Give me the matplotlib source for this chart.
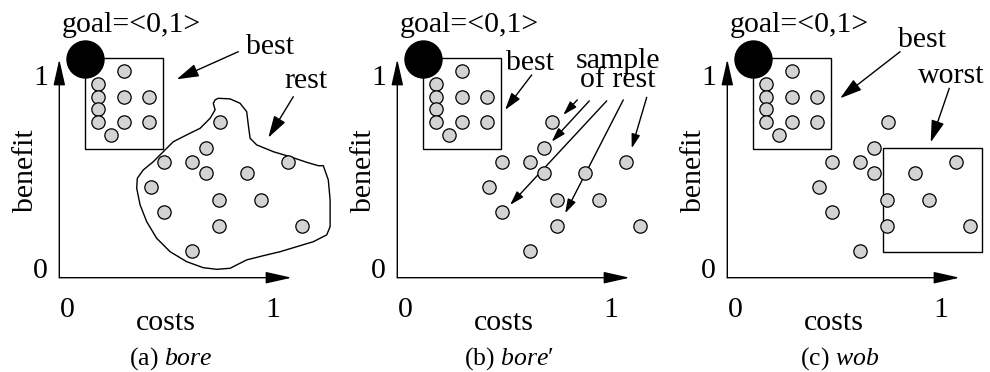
import matplotlib
matplotlib.use('Agg')
import matplotlib.pyplot as plt
from matplotlib.patches import Rectangle, Polygon

plt.rcParams['font.family'] = ['Liberation Serif', 'DejaVu Serif']
plt.rcParams['mathtext.fontset'] = 'custom'
plt.rcParams['mathtext.rm'] = 'Liberation Serif'
plt.rcParams['mathtext.it'] = 'Liberation Serif:italic'

# points (costs, benefit) - same population in every panel
best_x = [0.324, 0.192, 0.192, 0.324, 0.449, 0.192, 0.192, 0.324, 0.449, 0.259]
best_y = [1.035, 0.969, 0.905, 0.905, 0.905, 0.844, 0.780, 0.780, 0.780, 0.714]
rest_x = [0.804, 0.732, 0.524, 0.662, 1.145, 0.734, 0.937, 0.457, 0.800, 1.007, 0.525, 0.800, 1.212, 0.665]
rest_y = [0.777, 0.647, 0.580, 0.580, 0.580, 0.522, 0.522, 0.455, 0.389, 0.389, 0.327, 0.260, 0.260, 0.134]
# panel (b) has the top "rest" point nudged left
rest_x_b = [0.772, 0.732, 0.524, 0.662, 1.145, 0.734, 0.937, 0.457, 0.800, 1.007, 0.525, 0.800, 1.212, 0.665]

goal = (0.13, 1.095)
best_box = (0.13, 0.645, 0.52, 1.097)     # x0, y0, x1, y1
worst_box = (0.777, 0.13, 1.272, 0.647)

# hand drawn outline round the "rest" points in panel (a)
blob_x = [0.779, 0.795, 0.854, 0.904, 0.937, 0.945, 0.954, 0.987, 1.070, 1.154, 1.237, 1.295, 1.320,
          1.345, 1.354, 1.354, 1.337, 1.270, 1.187, 1.104, 1.020, 0.937, 0.887, 0.854, 0.787, 0.720,
          0.637, 0.554, 0.487, 0.437, 0.404, 0.387, 0.390, 0.420, 0.470, 0.520, 0.570, 0.637, 0.704,
          0.754, 0.779, 0.770]
blob_y = [0.889, 0.897, 0.894, 0.872, 0.830, 0.764, 0.697, 0.664, 0.630, 0.605, 0.577, 0.560, 0.560,
          0.489, 0.389, 0.255, 0.214, 0.180, 0.155, 0.130, 0.110, 0.089, 0.064, 0.047, 0.042, 0.050,
          0.080, 0.130, 0.197, 0.280, 0.364, 0.447, 0.497, 0.539, 0.580, 0.630, 0.680, 0.714, 0.747,
          0.797, 0.839, 0.872]

captions = [r'(a) $\mathit{bore}$', r'(b) $\mathit{bore}\prime$', r'(c) $\mathit{wob}$']

FS = 21.5
GRAY = '#d3d3d3'

fig = plt.figure(figsize=(9.9, 3.72), dpi=100)


def arrow(ax, tail, tip, hl, hw, lw=1.0):
    ax.annotate('', xy=tip, xytext=tail,
                arrowprops=dict(arrowstyle='-|>,head_length=%g,head_width=%g' % (hl, hw),
                                mutation_scale=10, lw=lw, color='black',
                                shrinkA=0, shrinkB=0), annotation_clip=False)


def panel(ax, caption, rx):
    ax.axis('off')
    # axes with arrow heads
    arrow(ax, (0, 0), (0, 1.092), 1.6, 0.36)
    arrow(ax, (0, 0), (1.162, 0), 1.6, 0.36)
    ax.text(-0.09, 0.965, '1', fontsize=FS, ha='center', va='baseline')
    ax.text(-0.093, 0.0, '0', fontsize=FS, ha='center', va='baseline')
    ax.text(0.038, -0.195, '0', fontsize=FS, ha='center', va='baseline')
    ax.text(1.068, -0.195, '1', fontsize=FS, ha='center', va='baseline')
    ax.text(0.535, -0.262, 'costs', fontsize=FS, ha='center', va='baseline')
    ax.text(-0.131, 0.535, 'benefit', fontsize=FS, ha='center', va='baseline',
            rotation=90, rotation_mode='anchor')
    ax.text(0.56, -0.432, caption, fontsize=18.5, ha='center', va='baseline')
    ax.text(0.362, 1.23, 'goal=<0,1>', fontsize=FS, ha='center', va='baseline')

    x0, y0, x1, y1 = best_box
    ax.add_patch(Rectangle((x0, y0), x1 - x0, y1 - y0, fill=False, lw=1.0, ec='black', zorder=2))
    ax.scatter(best_x, best_y, s=92, c=GRAY, edgecolors='black', linewidths=0.9, zorder=4, clip_on=False)
    ax.scatter(rx, rest_y, s=92, c=GRAY, edgecolors='black', linewidths=0.9, zorder=4, clip_on=False)
    ax.scatter([goal[0]], [goal[1]], s=710, c='black', zorder=5, clip_on=False)


axes = []
for i in range(3):
    ax = fig.add_axes([i / 3, 0, 1 / 3, 1])
    axes.append(ax)
origins = [59.3, 397.3, 727.3]
for i, ax in enumerate(axes):
    left = i * 330
    ax.set_xlim((left - origins[i]) / 200, (left + 330 - origins[i]) / 200)
    ax.set_ylim((277.7 - 372) / 200, 277.7 / 200)

# (a) bore
ax = axes[0]
panel(ax, captions[0], rest_x)
ax.add_patch(Polygon(list(zip(blob_x, blob_y)), closed=True, fill=False, lw=1.0, ec='black',
                     joinstyle='round', zorder=3, clip_on=False))
ax.text(1.054, 1.119, 'best', fontsize=FS, ha='center', va='baseline')
ax.text(1.231, 0.950, 'rest', fontsize=FS, ha='center', va='baseline')
arrow(ax, (0.895, 1.130), (0.587, 0.992), 1.35, 0.4)
arrow(ax, (1.170, 0.905), (1.045, 0.700), 1.35, 0.4)

# (b) bore'
ax = axes[1]
panel(ax, captions[1], rest_x_b)
ax.text(0.664, 1.039, 'best', fontsize=FS, ha='center', va='baseline')
arrow(ax, (0.672, 1.014), (0.539, 0.839), 1.05, 0.32)
ax.text(1.103, 0.955, 'sample\nof rest', fontsize=FS, ha='center', va='baseline',
        multialignment='center', linespacing=0.63)
sample_tails = [(0.900, 0.889), (0.960, 0.884), (1.047, 0.884), (1.130, 0.889), (1.247, 0.902)]
sample_tips = [(0.830, 0.814), (0.772, 0.680), (0.564, 0.364), (0.839, 0.322), (1.172, 0.647)]
for t, h in zip(sample_tails, sample_tips):
    arrow(ax, t, h, 0.85, 0.26)

# (c) wob
ax = axes[2]
panel(ax, captions[2], rest_x)
x0, y0, x1, y1 = worst_box
ax.add_patch(Rectangle((x0, y0), x1 - x0, y1 - y0, fill=False, lw=1.0, ec='black', zorder=2,
                       clip_on=False))
ax.text(0.972, 1.155, 'best', fontsize=FS, ha='center', va='baseline')
ax.text(1.118, 0.972, 'worst', fontsize=FS, ha='center', va='baseline')
arrow(ax, (0.864, 1.130), (0.564, 0.897), 1.35, 0.4)
arrow(ax, (1.110, 0.947), (1.017, 0.677), 1.35, 0.4)

fig.savefig('out.png', dpi=100)
